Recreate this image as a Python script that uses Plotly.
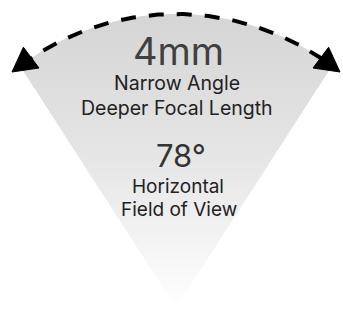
import numpy as np
import plotly.graph_objects as go

# ---- chart content ----
lens_title = ["4mm"]
lens_lines = ["Narrow Angle", "Deeper Focal Length"]
fov_degrees = [78]
fov_lines = ["Horizontal", "Field of View"]

# ---- geometry (canvas units, y grows downward) ----
W, H = 343, 309
cx = 176.0
arc_cy = 274.0
R = 260.0
half_deg = np.degrees(np.arcsin(156.0 / R))
apex_y = 308.0

theta = np.radians(np.linspace(-half_deg, half_deg, 160))
arc_x = cx + R * np.sin(theta)
arc_y = arc_cy - R * np.cos(theta)

fan_x = [cx] + list(arc_x) + [cx]
fan_y = [apex_y] + list(arc_y) + [apex_y]

fig = go.Figure()

fig.add_trace(go.Scatter(
    x=fan_x, y=fan_y, mode="none", fill="toself",
    fillgradient=dict(type="vertical",
                      colorscale=[[0, "#d5d5d5"], [0.5, "#e6e6e6"], [1, "#ffffff"]],
                      start=14, stop=308),
    hoverinfo="skip"))

fig.add_trace(go.Scatter(
    x=arc_x, y=arc_y, mode="lines",
    line=dict(color="black", width=4, dash="15px,13px"),
    hoverinfo="skip"))

# arrowheads at both arc ends
h = np.radians(half_deg)
for side in (-1, 1):
    px = cx + side * R * np.sin(h)
    py = arc_cy - R * np.cos(h)
    tx, ty = side * np.cos(h), np.sin(h)
    nx, ny = -ty, tx
    tip = (px + 10 * tx, py + 10 * ty)
    bx, by = px - 14 * tx, py - 14 * ty
    xs = [tip[0], bx + 13 * nx, bx - 13 * nx, tip[0]]
    ys = [tip[1], by + 13 * ny, by - 13 * ny, tip[1]]
    fig.add_trace(go.Scatter(x=xs, y=ys, mode="lines", fill="toself",
                             fillcolor="black", line=dict(color="black", width=1),
                             hoverinfo="skip"))

font = "Inter, Roboto, sans-serif"
texts = [
    (lens_title[0], 178, 51, 38, "#404040"),
    (lens_lines[0], 177, 83, 19.5, "#222222"),
    (lens_lines[1], 176.5, 108, 19.5, "#222222"),
    (f"{fov_degrees[0]}°", 181, 155.5, 31, "#333333"),
    (fov_lines[0], 178, 186, 19, "#222222"),
    (fov_lines[1], 178.5, 209, 19, "#222222"),
]
for t, x, y, s, c in texts:
    fig.add_annotation(x=x, y=y, text=t, showarrow=False, xanchor="center",
                       yanchor="middle", font=dict(family=font, size=s, color=c))

fig.update_layout(
    width=W, height=H, margin=dict(l=0, r=0, t=0, b=0),
    paper_bgcolor="white", plot_bgcolor="white", showlegend=False,
    xaxis=dict(range=[0, W], visible=False, fixedrange=True),
    yaxis=dict(range=[H, 0], visible=False, fixedrange=True),
)

fig.write_html("out.html", config={"displayModeBar": False},
               post_script="document.body.style.margin='0';")
